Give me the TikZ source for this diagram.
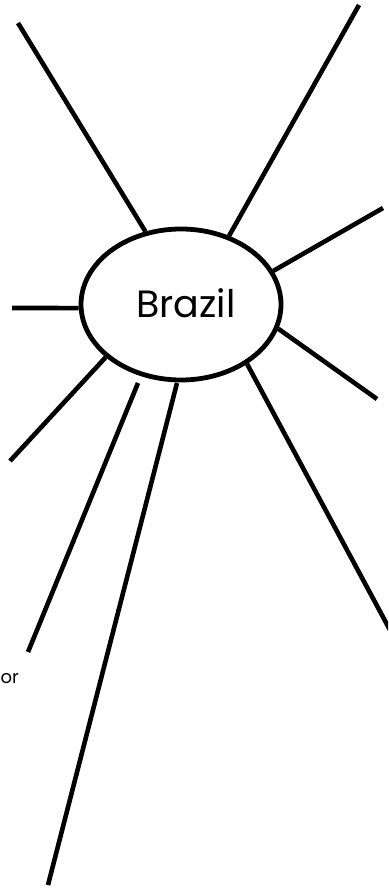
\documentclass[tikz,border=0pt]{standalone}
\usepackage{fontspec}
\setmainfont{Poppins}
\usetikzlibrary{shapes.geometric}
\begin{document}
\begin{tikzpicture}[x=1pt,y=-1pt,
  spoke/.style={line width=4.6pt,line cap=butt},
  hub/.style={ellipse,draw,line width=4.8pt,fill=white,minimum width=200pt,minimum height=151pt,inner sep=0pt}]
\useasboundingbox (0,0) rectangle (388,890);
\clip (0,0) rectangle (388,890);
\node[hub] (c) at (181,304.5) {};
\node[anchor=base,font=\fontsize{38}{40}\selectfont] (t) at (186,317) {Brazil};
\node[anchor=base west,inner sep=0pt,font=\fontsize{18}{20}\selectfont] (or) at (0.5,683) {or};
% free ends
\coordinate (o1) at (18,23);
\coordinate (o2) at (359,5);
\coordinate (o3) at (383,208);
\coordinate (o4) at (12,308);
\coordinate (o5) at (377,399);
\coordinate (o6) at (10,461);
\coordinate (s7) at (138,383);
\coordinate (o7) at (28,652);
\coordinate (s8) at (177,383);
\coordinate (o8) at (48,885);
\coordinate (o9) at (390,630);
\draw[spoke] (c.116.7) -- (o1);
\draw[spoke] (c.55.4) -- (o2);
\draw[spoke] (c.20.3) -- (o3);
\draw[spoke] (c.182) -- (o4);
\draw[spoke] (c.-14.4) -- (o5);
\draw[spoke] (c.215.1) -- (o6);
\draw[spoke] (s7) -- (o7);
\draw[spoke] (s8) -- (o8);
\draw[spoke] (c.-42.5) -- (o9);
\end{tikzpicture}
\end{document}
